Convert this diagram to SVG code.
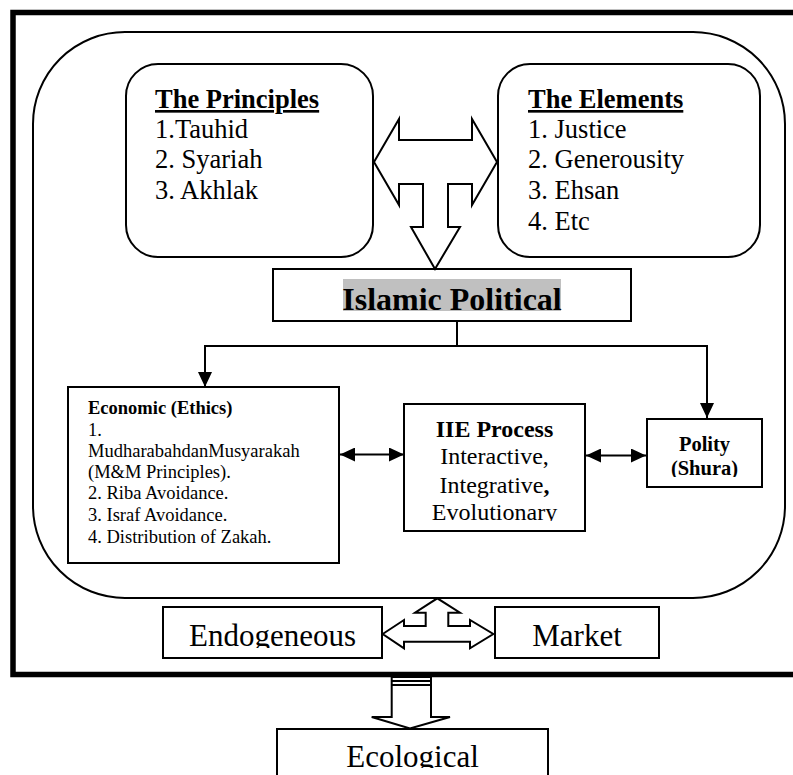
<svg xmlns="http://www.w3.org/2000/svg" width="793" height="775" viewBox="0 0 793 775">
<style>
  .box{fill:#fff;stroke:#000;stroke-width:2}
  .frame{fill:none;stroke:#000;stroke-width:5.5}
  .big{fill:none;stroke:#000;stroke-width:2}
  .conn{fill:none;stroke:#000;stroke-width:2}
  .blk{fill:#fff;stroke:#000;stroke-width:2;stroke-linejoin:miter}
  text{font-family:"Liberation Serif","Times New Roman",serif;fill:#000}
  .h{font-size:26.5px;font-weight:bold;text-decoration:underline}
  .l{font-size:26.5px}
  .e{font-size:18.5px}
  .eb{font-size:18.5px;font-weight:bold}
</style>
<defs>
  <marker id="ah" markerUnits="userSpaceOnUse" markerWidth="15" markerHeight="14" refX="15" refY="7" orient="auto-start-reverse">
    <path d="M0,0 L15,7 L0,14 Z" fill="#000"/>
  </marker>
  <clipPath id="cEndo"><rect x="163" y="600" width="500" height="48"/></clipPath>
  <clipPath id="cEco"><rect x="270" y="725" width="290" height="43"/></clipPath>
  <clipPath id="cIIE"><rect x="404" y="404" width="181" height="117"/></clipPath>
  <clipPath id="cPol"><rect x="647" y="419" width="115" height="58"/></clipPath>
</defs>

<g id="frame">
  <path class="frame" d="M796,12.5 H13 V674.5 H796"/>
  <rect class="big" x="33" y="32" width="752" height="566" rx="92" ry="92"/>
</g>

<g id="principles">
  <rect class="box" x="126" y="64" width="247" height="193" rx="32" ry="32"/>
  <text class="h" x="155" y="108">The Principles</text>
  <text class="l" x="155" y="138">1.Tauhid</text>
  <text class="l" x="155" y="168">2. Syariah</text>
  <text class="l" x="155" y="199">3. Akhlak</text>
</g>

<g id="elements">
  <rect class="box" x="498" y="64" width="262" height="193" rx="32" ry="32"/>
  <text class="h" x="528" y="108">The Elements</text>
  <text class="l" x="528" y="138">1. Justice</text>
  <text class="l" x="528" y="168">2. Generousity</text>
  <text class="l" x="528" y="199">3. Ehsan</text>
  <text class="l" x="528" y="230">4. Etc</text>
</g>

<g id="islamic-political">
  <rect class="box" x="273" y="269" width="358" height="52"/>
  <rect x="343" y="279" width="218" height="32" fill="#c0c0c0"/>
  <text x="452" y="310" text-anchor="middle" font-size="32" font-weight="bold">Islamic Political</text>
</g>

<g id="economic">
  <rect class="box" x="68" y="387" width="271" height="176"/>
  <text class="eb" x="88" y="414">Economic (Ethics)</text>
  <text class="e" x="88" y="436">1.</text>
  <text class="e" x="88" y="457">MudharabahdanMusyarakah</text>
  <text class="e" x="88" y="478">(M&amp;M Principles).</text>
  <text class="e" x="88" y="499">2. Riba Avoidance.</text>
  <text class="e" x="88" y="521">3. Israf Avoidance.</text>
  <text class="e" x="88" y="543">4. Distribution of Zakah.</text>
</g>

<g id="iie-process">
  <rect class="box" x="404" y="404" width="181" height="127"/>
  <g clip-path="url(#cIIE)" text-anchor="middle">
    <text x="494.5" y="437" font-size="24" font-weight="bold">IIE Process</text>
    <text x="494.5" y="464" font-size="24">Interactive,</text>
    <text x="494.5" y="493" font-size="24">Integrative<tspan font-weight="bold">,</tspan></text>
    <text x="494.5" y="520" font-size="24">Evolutionary</text>
  </g>
</g>

<g id="polity">
  <rect class="box" x="647" y="419" width="115" height="68"/>
  <g clip-path="url(#cPol)" text-anchor="middle">
    <text x="704.5" y="450.5" font-size="20.5" font-weight="bold">Polity</text>
    <text x="704.5" y="475" font-size="20.5" font-weight="bold">(Shura)</text>
  </g>
</g>

<g id="endogeneous">
  <rect class="box" x="163" y="607" width="219" height="51"/>
  <text x="272.5" y="646" font-size="31" text-anchor="middle" clip-path="url(#cEndo)">Endogeneous</text>
</g>

<g id="market">
  <rect class="box" x="495" y="607" width="164" height="51"/>
  <text x="577" y="646" font-size="31" text-anchor="middle">Market</text>
</g>

<g id="ecological">
  <path class="box" d="M277,780 V729 H548 V780"/>
  <text x="412.5" y="767" font-size="31" text-anchor="middle" clip-path="url(#cEco)">Ecological</text>
</g>

<g id="connectors">
  <!-- top block arrow: principles <-> elements, down to Islamic Political -->
  <polygon class="blk" points="374,162 399,119 399,140 472,140 472,119 497,162 472,205 472,184 448,184 448,227 460,227 435,269 411,227 423,227 423,184 399,184 399,205"/>
  <!-- tree from Islamic Political -->
  <path class="conn" d="M457,321 V346 M205,346 H707"/>
  <line class="conn" x1="205" y1="345" x2="205" y2="387" marker-end="url(#ah)"/>
  <line class="conn" x1="707" y1="345" x2="707" y2="418" marker-end="url(#ah)"/>
  <!-- double arrows -->
  <line class="conn" x1="340" y1="454.5" x2="404" y2="454.5" marker-start="url(#ah)" marker-end="url(#ah)"/>
  <line class="conn" x1="586" y1="455.5" x2="646" y2="455.5" marker-start="url(#ah)" marker-end="url(#ah)"/>
  <!-- bottom three-way block arrow -->
  <polygon class="blk" points="382.7,634 404,620 404,626 425.7,626 425.7,612.7 415,612.7 437.3,598.3 460,612.7 448.3,612.7 448.3,626 470,626 470,620 493.3,634 470,648.3 470,641.7 404,641.7 404,648.3"/>
  <!-- down block arrow to Ecological -->
  <polygon class="blk" stroke-width="1.6" points="391.7,677 431,677 431,717 450,717 410,728.5 371.7,717 391.7,717"/>
  <path class="conn" stroke-width="1.4" d="M391.7,681 H431 M391.7,685 H431"/>
</g>
</svg>
